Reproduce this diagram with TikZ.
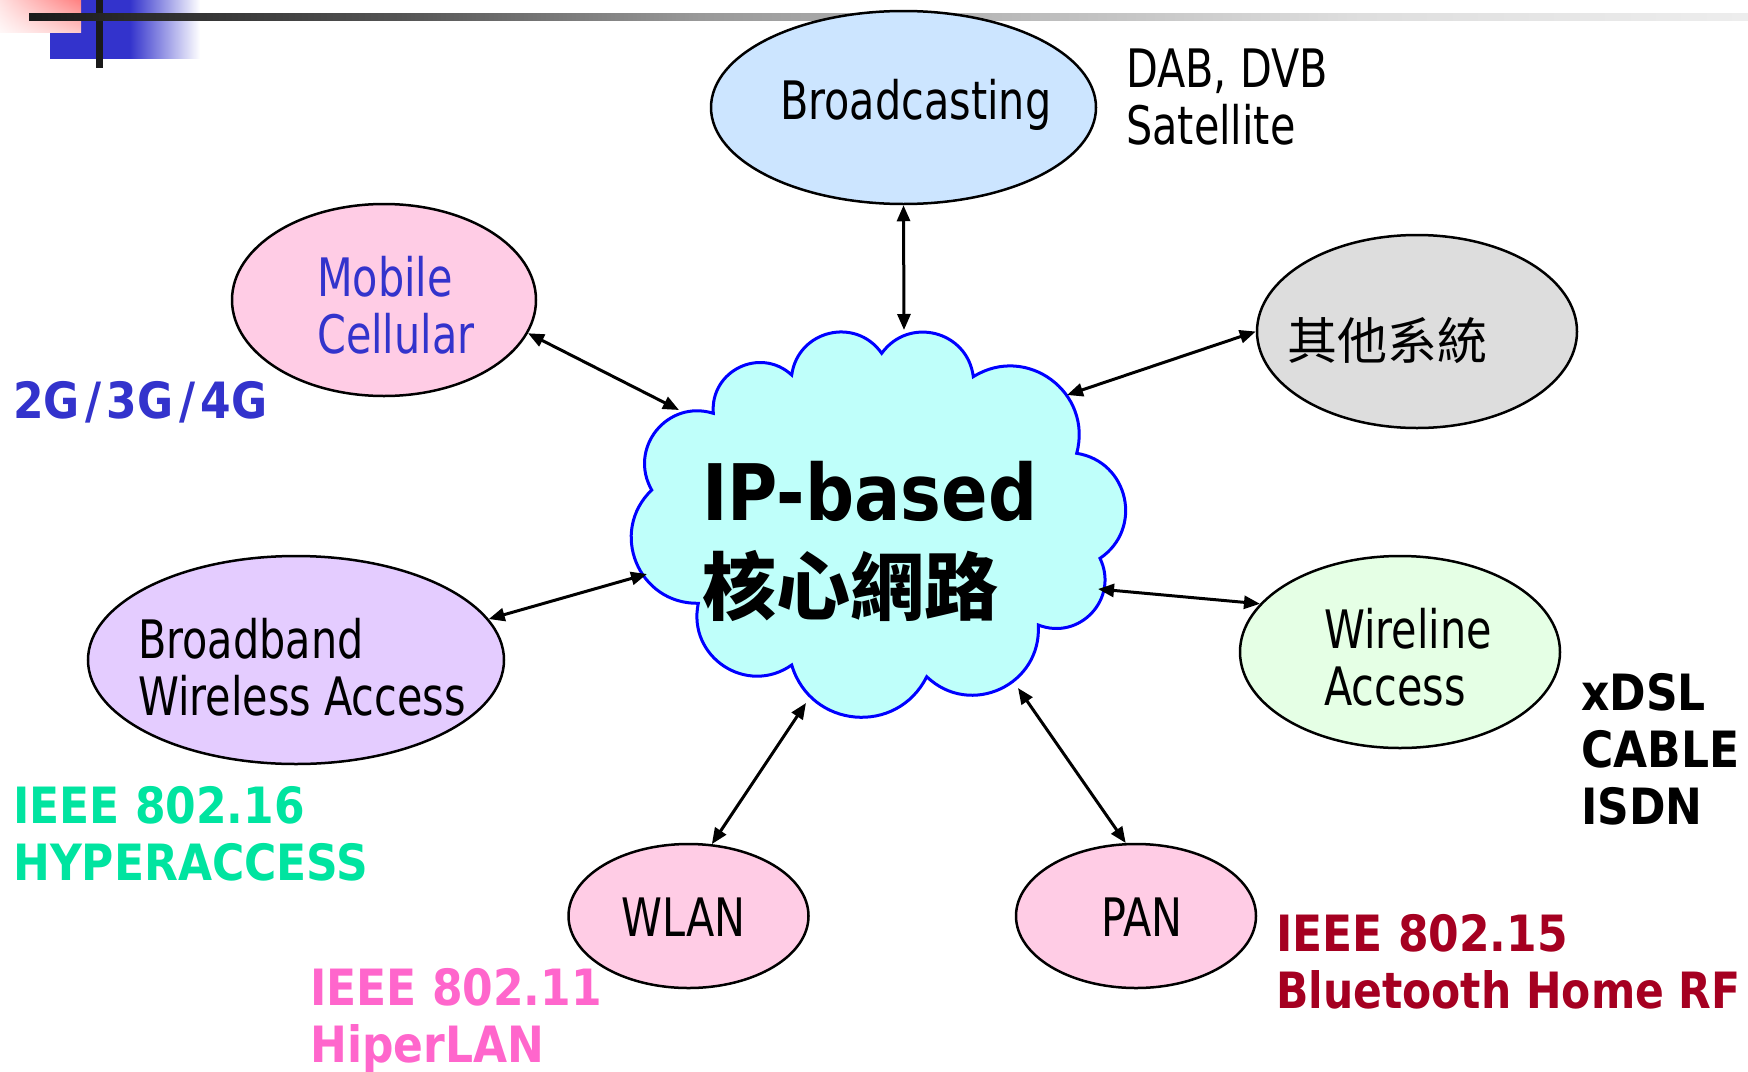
\documentclass[tikz,border=0pt]{standalone}
\usepackage{fontspec}
\usetikzlibrary{shapes.geometric,arrows.meta,calc,shadings}
\newfontfamily\rf[FakeStretch=0.78]{DejaVu Sans}
\newfontfamily\bfnt[FakeStretch=0.88]{DejaVu Sans Bold}
\newfontfamily\bfntn[FakeStretch=0.85]{DejaVu Sans Bold}
\newfontfamily\cjk{Noto Sans CJK TC}
\definecolor{bcfill}{RGB}{204,229,255}
\definecolor{pinkfill}{RGB}{255,204,229}
\definecolor{grayfill}{RGB}{221,221,221}
\definecolor{lavfill}{RGB}{228,204,255}
\definecolor{greenfill}{RGB}{229,255,229}
\definecolor{cloudfill}{RGB}{191,255,250}
\definecolor{cloudline}{RGB}{0,0,255}
\definecolor{mobblue}{RGB}{51,51,204}
\definecolor{ieeegreen}{RGB}{0,228,160}
\definecolor{ieeepink}{RGB}{255,102,204}
\definecolor{ieeered}{RGB}{165,0,33}
\definecolor{barblack}{RGB}{26,26,26}
\definecolor{pkUR}{RGB}{255,128,128}
\definecolor{pkUL}{RGB}{255,225,225}
\definecolor{pkLR}{RGB}{255,200,200}
\definecolor{pkLL}{RGB}{255,248,248}
\pgfdeclarehorizontalshading{barshade}{100bp}{rgb(0bp)=(0.1,0.1,0.1); rgb(25bp)=(0.1,0.1,0.1); rgb(35.8bp)=(0.33,0.33,0.33); rgb(44.5bp)=(0.6,0.6,0.6); rgb(63.7bp)=(0.87,0.87,0.87); rgb(75bp)=(0.93,0.93,0.93); rgb(100bp)=(0.93,0.93,0.93)}
\pgfdeclarehorizontalshading{bluefade}{100bp}{rgb(0bp)=(0.2,0.2,0.8); rgb(51.5bp)=(0.2,0.2,0.8); rgb(75bp)=(1,1,1); rgb(100bp)=(1,1,1)}
\tikzset{
  ell/.style={ellipse, draw=black, line width=2.5pt, inner sep=0pt},
  reg/.style={inner sep=0pt, font=\rf\fontsize{53}{57}\selectfont, align=left},
  lbl/.style={inner sep=0pt, font=\bfnt\fontsize{50}{57}\selectfont, align=left},
  link/.style={line width=3pt, {Triangle[length=16pt,width=13pt]}-{Triangle[length=16pt,width=13pt]}},
  bump/.style={to path={.. controls ($(\tikztostart)!0.49!68.5:(\tikztotarget)$) and ($(\tikztotarget)!0.49!-68.5:(\tikztostart)$) .. (\tikztotarget)}}
}
\begin{document}
\begin{tikzpicture}[x=1pt,y=-1pt]
\useasboundingbox (0,0) rectangle (1748,1071);
% header decoration
\shade[shading=bluefade] (50,0) rectangle (200,58);
\shade[upper right=pkUR, upper left=pkUL, lower right=pkLR, lower left=pkLL] (0,0) rectangle (81,32);
\fill[barblack] (96,0) rectangle (103,68);
\shade[shading=barshade] (29,13) rectangle (1748,20);

% cloud
\coordinate (cl1) at (881.7,353.3);
\coordinate (cl2) at (973.3,376.7);
\coordinate (cl3) at (1076.7,453.3);
\coordinate (cl4) at (1100,558.3);
\coordinate (cl5) at (1038.3,625);
\coordinate (cl6) at (926.7,676.7);
\coordinate (cl7) at (791.7,665);
\coordinate (cl8) at (698.3,603.3);
\coordinate (cl9) at (651.7,490);
\coordinate (cl10) at (713.3,413.3);
\coordinate (cl11) at (791.7,375);
\path[fill=cloudfill, draw=cloudline, line width=3pt, line join=miter]
  (cl1) to[bump] (cl2) to[bump] (cl3) to[bump] (cl4) to[bump] (cl5) to[bump] (cl6)
  to[bump] (cl7) to[bump] (cl8) to[bump] (cl9) to[bump] (cl10) to[bump] (cl11) to[bump] (cl1) -- cycle;
\node[inner sep=0pt, anchor=base west, font=\bfnt\fontsize{78}{80}\selectfont] (ip) at (702,520) {IP-based};
\node[inner sep=0pt, font=\cjk\bfseries\fontsize{74}{76}\selectfont] (core) at (850,586) {核心網路};

% ellipses
\node[ell, fill=bcfill, minimum width=385pt, minimum height=193pt] (bc) at (903.5,107.5) {};
\node[ell, fill=pinkfill, minimum width=304pt, minimum height=192pt] (mob) at (384,300) {};
\node[ell, fill=grayfill, minimum width=320pt, minimum height=193pt] (oth) at (1417,331.5) {};
\node[ell, fill=lavfill, minimum width=416pt, minimum height=208pt] (bwa) at (296,660) {};
\node[ell, fill=greenfill, minimum width=320pt, minimum height=192pt] (wla) at (1400,652) {};
\node[ell, fill=pinkfill, minimum width=240pt, minimum height=144pt] (wlan) at (688.5,916) {};
\node[ell, fill=pinkfill, minimum width=240pt, minimum height=144pt] (pan) at (1136,916) {};

% texts in ellipses (base anchor = last line)
\node[reg, anchor=base west] (tbc) at (780,119) {Broadcasting};
\node[reg, anchor=base west, text=mobblue] (tmob) at (317,353) {Mobile\\Cellular};
\node[inner sep=0pt, font=\cjk\fontsize{50}{52}\selectfont] (toth) at (1387,340) {其他系統};
\node[reg, anchor=base west] (tbwa) at (138,715) {Broadband\\Wireless Access};
\node[reg, anchor=base west] (twla) at (1324,705) {Wireline\\Access};
\node[reg, anchor=base west] (twlan) at (621,936) {WLAN};
\node[reg, anchor=base west] (tpan) at (1101,936) {PAN};

% side labels
\node[reg, anchor=base west] (dab) at (1126,144) {DAB, DVB\\Satellite};
\node[lbl, anchor=base west, text=mobblue] (g234) at (13,418) {2G\kern5.5pt/\kern5.5pt3G\kern5.5pt/\kern5.5pt4G};
\node[lbl, anchor=base west, text=ieeegreen] (i16) at (13,880) {IEEE 802.16\\HYPERACCESS};
\node[lbl, anchor=base west, text=ieeepink] (i11) at (310,1062) {IEEE 802.11\\HiperLAN};
\node[lbl, anchor=base west, text=ieeered] (i15) at (1276,1008) {IEEE 802.15\\{\bfntn Bluetooth Home RF}};
\node[lbl, anchor=base west, text=black] (xdsl) at (1581,824) {xDSL\\CABLE\\ISDN};

% connectors
\coordinate (eBc) at (904,330);
\coordinate (eMob) at (679,410);
\coordinate (eOth) at (1067,395);
\coordinate (eBwa) at (647,574);
\coordinate (eWla) at (1098,589);
\coordinate (eWlan) at (806,703);
\coordinate (ePan) at (1018,688);
\draw[link] (bc.south) -- (eBc);
\draw[link] (mob.-13) -- (eMob);
\draw[link] (oth.180) -- (eOth);
\draw[link] (bwa.12) -- (eBwa);
\draw[link] (wla.161) -- (eWla);
\draw[link] (wlan.72) -- (eWlan);
\draw[link] (pan.98) -- (ePan);
\end{tikzpicture}
\end{document}
